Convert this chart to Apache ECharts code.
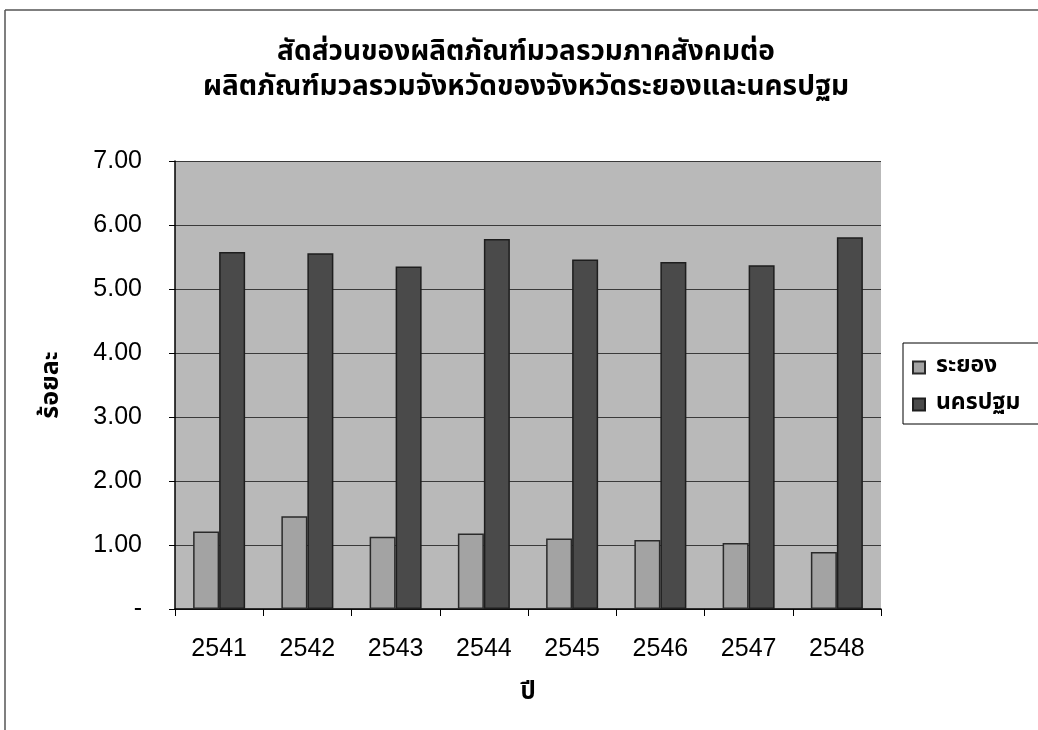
<!DOCTYPE html>
<html><head><meta charset="utf-8">
<script src="https://cdn.jsdelivr.net/npm/echarts@6/dist/echarts.min.js"></script>
<style>html,body{margin:0;padding:0;background:#fff}#c{width:1038px;height:730px}</style>
</head><body><div id="c"></div>
<script>
const titleLines = ['สัดส่วนของผลิตภัณฑ์มวลรวมภาคสังคมต่อ', 'ผลิตภัณฑ์มวลรวมจังหวัดของจังหวัดระยองและนครปฐม'];
const categories = ['2541','2542','2543','2544','2545','2546','2547','2548'];
const seriesNames = ['ระยอง','นครปฐม'];
const rayong = [1.21,1.45,1.13,1.18,1.10,1.08,1.03,0.89];
const nakhonPathom = [5.58,5.56,5.35,5.78,5.46,5.42,5.37,5.81];
const yTicks = [0,1,2,3,4,5,6,7];
const yAxisName = 'ร้อยละ';
const xAxisName = 'ปี';

const thaiFont = "'Noto Sans Thai','Noto Sans','DejaVu Sans',sans-serif";
const numFont = "'Liberation Sans',Arial,sans-serif";
const chart = echarts.init(document.getElementById('c'));
chart.setOption({
  backgroundColor:'#fff',
  animation:false,
  title:{text:titleLines.join('\n'),left:521,textAlign:'center',top:32,padding:5,
    textStyle:{fontFamily:thaiFont,fontSize:28,fontWeight:'bold',color:'#000',lineHeight:35}},
  legend:{orient:'vertical',left:903,top:343,
    borderColor:'#000',borderWidth:1,padding:[13,30,8,9],itemGap:14,
    itemWidth:12,itemHeight:12,icon:'rect',
    textStyle:{fontFamily:thaiFont,fontSize:23,fontWeight:'bold',color:'#000',padding:[0,0,0,6]},
    data:seriesNames},
  grid:{left:175,right:157,top:161,bottom:121,show:true,backgroundColor:'#b9b9b9',borderWidth:0,
    containLabel:false,outerBoundsMode:'none'},
  xAxis:{type:'category',data:categories,
    name:xAxisName,nameLocation:'middle',nameGap:73,nameMoveOverlap:false,
    nameTextStyle:{fontFamily:thaiFont,fontSize:24,fontWeight:'bold',color:'#000'},
    axisLine:{lineStyle:{color:'#000',width:1.5}},
    axisTick:{show:true,inside:false,length:7,lineStyle:{color:'#000'}},
    axisLabel:{fontFamily:numFont,fontSize:25,color:'#000',margin:28}},
  yAxis:{type:'value',min:0,max:7,interval:1,
    name:yAxisName,nameLocation:'middle',nameGap:110,nameRotate:90,nameMoveOverlap:false,
    nameTextStyle:{fontFamily:thaiFont,fontSize:25,fontWeight:'bold',color:'#000'},
    axisLine:{show:true,lineStyle:{color:'#000',width:1.5}},
    axisTick:{show:true,length:6,lineStyle:{color:'#000'}},
    splitLine:{show:true,lineStyle:{color:'#3a3a3a',width:1.2}},
    axisLabel:{fontFamily:numFont,fontSize:25,color:'#000',margin:33,
      formatter:v=> yTicks.includes(v) ? (v===0?'-':v.toFixed(2)) : ''}},
  series:[
    {name:seriesNames[0],type:'bar',data:rayong,barWidth:26,barGap:'0%',
      itemStyle:{color:'#a3a3a3',borderColor:'#2a2a2a',borderWidth:1.5}},
    {name:seriesNames[1],type:'bar',data:nakhonPathom,barWidth:26,barGap:'0%',
      itemStyle:{color:'#4a4a4a',borderColor:'#1e1e1e',borderWidth:1.5}}
  ],
  graphic:[
    {type:'line',shape:{x1:5,y1:10,x2:1038,y2:10},style:{stroke:'#555',lineWidth:1.5}},
    {type:'line',shape:{x1:5,y1:10,x2:5,y2:730},style:{stroke:'#555',lineWidth:1.5}}
  ]
});
</script></body></html>
